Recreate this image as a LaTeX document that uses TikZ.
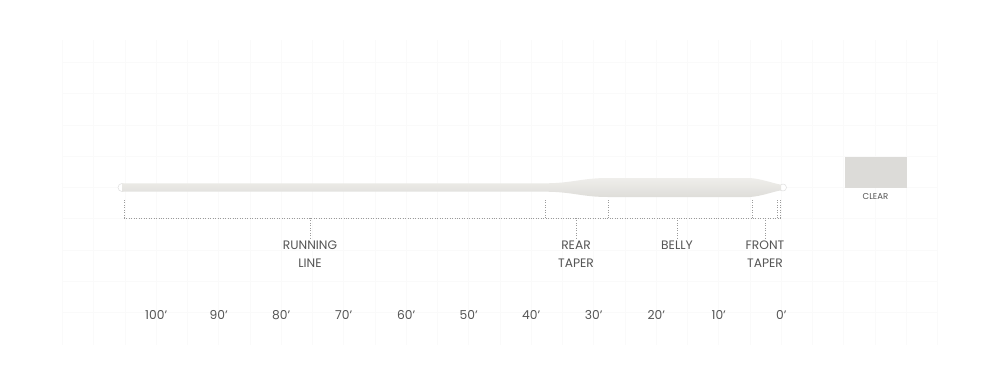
\documentclass[tikz,border=0pt]{standalone}
\usepackage{fontspec}
\setmainfont{Poppins}
\usetikzlibrary{calc}
\definecolor{linefill}{HTML}{E8E7E3}
\definecolor{linetop}{HTML}{EFEEEB}
\definecolor{linebot}{HTML}{DEDDD9}
\definecolor{swatch}{HTML}{DCDBD8}
\definecolor{txt}{HTML}{555555}
\definecolor{dots}{HTML}{9A9A9A}
\definecolor{gridc}{HTML}{FAFAFA}
\tikzset{
  lbl/.style={font=\fontsize{9.2}{13.5}\selectfont, text=txt, align=center, inner sep=1pt},
  dist/.style={font=\fontsize{9.2}{11}\selectfont, text=txt, inner sep=0pt},
  dotline/.style={draw=dots, line width=0.5pt, dash pattern=on 0.75pt off 1.1pt},
  gridline/.style={draw=gridc, line width=0.5pt}
}
\begin{document}
\begin{tikzpicture}[x=0.75pt,y=-0.75pt]
\useasboundingbox (0,0) rectangle (1000,375);
\fill[white] (0,0) rectangle (1000,375);
% faint grid
\foreach \gx in {62.5,93.75,...,940} {\draw[gridline] (\gx,40) -- (\gx,345);}
\foreach \gy in {62.5,93.75,125,156.25,187.5,218.75,250,281.25,312.5} {\draw[gridline] (62.5,\gy) -- (937.5,\gy);}
% fly line
\coordinate (tipL) at (122,187.5);
\coordinate (tipR) at (783,187.5);
\fill[white, draw=black!12, line width=0.4pt] (tipL) circle (4);
\fill[white, draw=black!12, line width=0.4pt] (tipR) circle (3.5);
\shade[top color=linetop, bottom color=linebot]
  (122,183.3) -- (545,183.3)
  .. controls (572,183.3) and (582,178) .. (608,178)
  -- (750,178) .. controls (762,179) and (772,183) .. (780,184.5)
  -- (781,184.5) -- (781,190.5) -- (780,190.5)
  .. controls (772,192) and (762,196) .. (750,197)
  -- (608,197) .. controls (582,197) and (572,191.7) .. (545,191.7)
  -- (122,191.7) -- cycle;
% segment boundaries
\coordinate (b0) at (124,200);
\coordinate (b1) at (545,200);
\coordinate (b2) at (608,200);
\coordinate (b3) at (752,200);
\coordinate (b4) at (777.5,200);
\coordinate (b5) at (780.5,200);
\foreach \b in {b0,b1,b2,b3,b4,b5} {\draw[dotline] (\b) -- (\b |- 0,218);}
\coordinate (hl) at (124,218);
\coordinate (hr) at (780.5,218);
\draw[dotline] (hl) -- (hr);
% labels
\node[lbl, anchor=north] (run) at (310,239.5) {RUNNING\\LINE};
\node[lbl, anchor=north] (rear) at (576,239.5) {REAR\\TAPER};
\node[lbl, anchor=north] (belly) at (677,239.5) {BELLY};
\node[lbl, anchor=north] (front) at (765,239.5) {FRONT\\TAPER};
\foreach \n in {run,rear,belly,front} {\draw[dotline] (\n.north |- 0,218) -- ([yshift=0.75pt]\n.north);}
% swatch
\node[fill=swatch, minimum width=62*0.75pt, minimum height=31*0.75pt, inner sep=0pt] (sw) at (876,172.5) {};
\node[font=\fontsize{6.4}{8}\selectfont, text=txt, anchor=north, inner sep=0pt] (clear) at (875.5,193.5) {CLEAR};
% distances
\foreach \d [count=\i from 0] in {100,90,80,70,60,50,40,30,20,10,0} {
  \node[dist] (d\i) at ({156.25+62.5*\i},315) {\d’};
}
\end{tikzpicture}
\end{document}
